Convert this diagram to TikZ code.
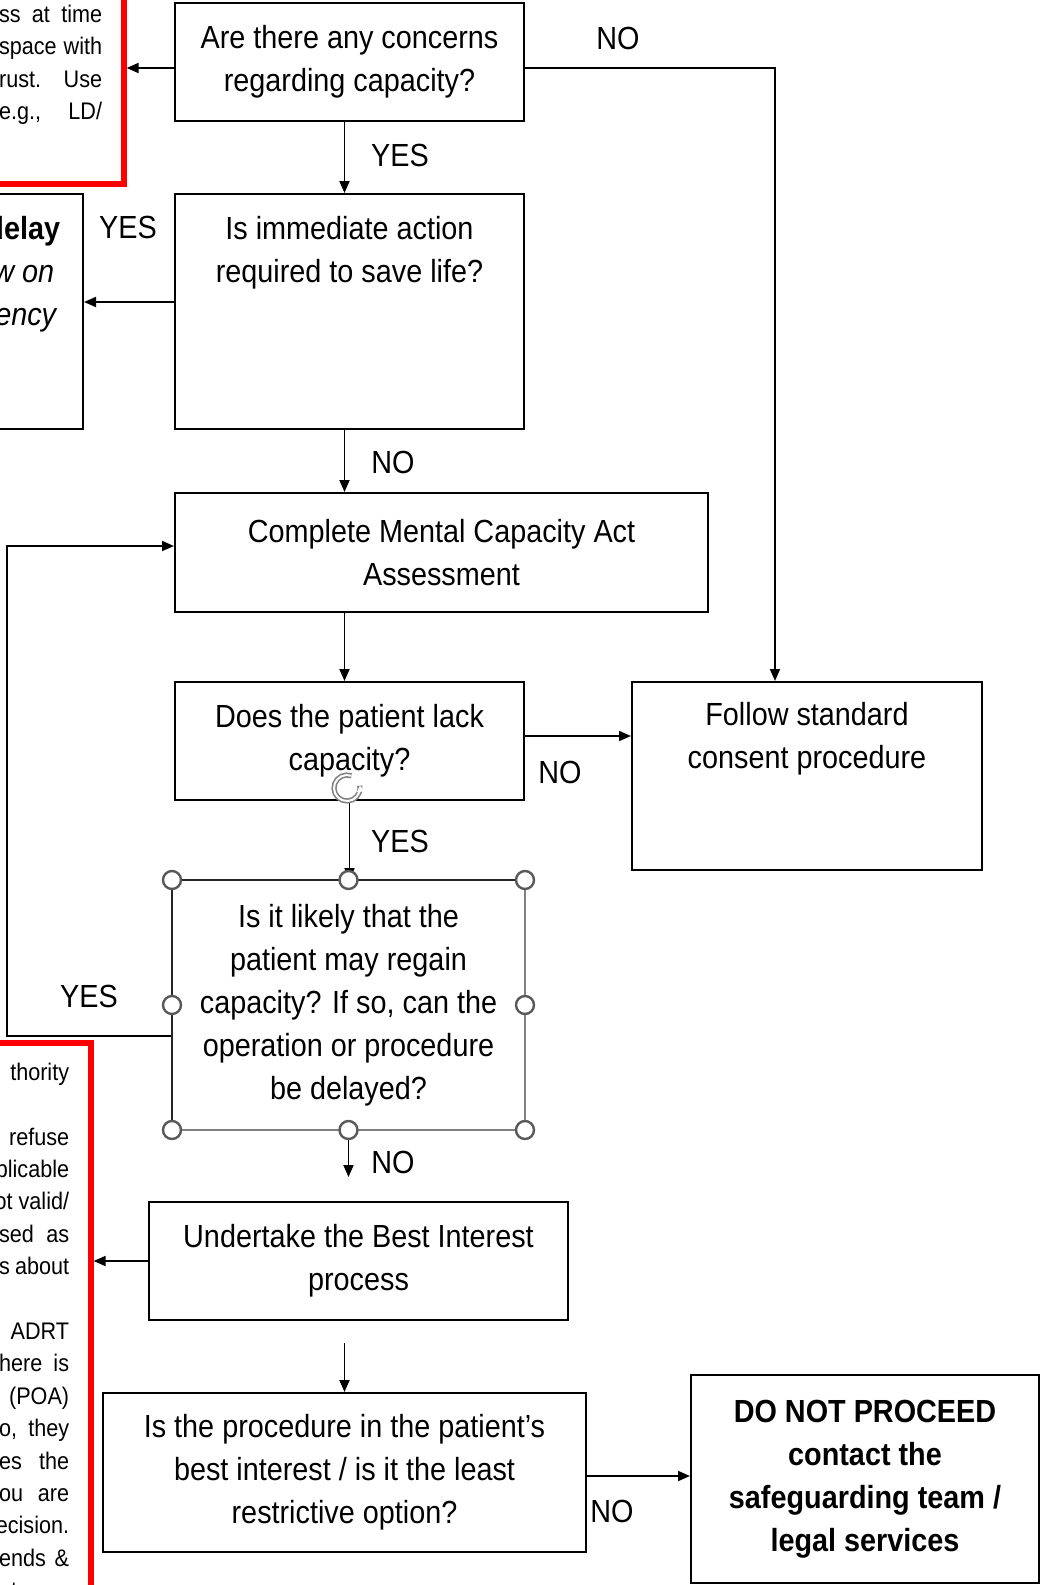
\documentclass[tikz,border=0pt]{standalone}
\usepackage{fontspec}
\setmainfont[FakeStretch=0.9]{Liberation Sans}
\usetikzlibrary{arrows.meta}

\newlength{\fragwidth}
\newcommand{\fragline}[1]{\makebox[\fragwidth][s]{#1}}

\begin{document}
\begin{tikzpicture}[x=0.5pt,y=-0.5pt,line width=0.9pt,
  >={Triangle[length=6pt,width=5pt]},
  every node/.style={font=\fontsize{16}{21.5}\selectfont, inner sep=0pt},
  box/.style={draw, rectangle, line width=1pt, align=center},
  redbox/.style={draw=red, rectangle, line width=2.6pt},
  note/.style={font=\fontsize{12}{16.2}\selectfont, align=right, anchor=north east},
  handle/.style={draw=gray!70!black, fill=white, line width=1.2pt}]
\useasboundingbox (0,0) rectangle (1040,1585);
\clip (0,0) rectangle (1040,1585);
\fill[white] (0,0) rectangle (1040,1585);

% cut-off boxes on the left
\node[redbox, minimum width=72pt, minimum height=102pt] (notes1) at (52,82) {};
\setlength{\fragwidth}{51.5pt}
\node[note] (notes1txt) at (103,4) {\fragline{ss at time}\\\fragline{space with}\\\fragline{rust. Use}\\\fragline{e.g., LD/}};

\node[draw, rectangle, line width=1pt, minimum width=51.5pt, minimum height=117.5pt] (urgentleft) at (31.5,311.5) {};
\node[align=right, anchor=north east] (urgentlefttxt) at (61,215) {{\bfseries delay}\\{\itshape w on}\kern3pt\\{\itshape ency}\kern2pt};

\node[redbox, minimum width=55.5pt, minimum height=298.5pt] (notes3) at (35.5,1341.5) {};
\setlength{\fragwidth}{35pt}
\node[note] (notes3txt) at (70,1062) {thority\\\mbox{}\\refuse\\plicable\\ot valid/\\\fragline{sed as}\\\fragline{s about}\\\mbox{}\\ADRT\\\fragline{here is}\\(POA)\\\fragline{o, they}\\\fragline{es the}\\\fragline{ou are}\\ecision.\\\fragline{ends \&}\\\fragline{nt an}};

% main flow
\node[box, minimum width=174.5pt, minimum height=59pt] (concern) at (349.5,62) {Are there any concerns\\regarding capacity?};
\node[box, minimum width=174.5pt, minimum height=117.5pt] (urgent) at (349.5,311.5) {};
\node[anchor=north, align=center] (urgenttxt) at (349.5,215) {Is immediate action\\required to save life?};
\node[box, minimum width=266.5pt, minimum height=59.5pt] (mca) at (441.5,552.5) {Complete Mental Capacity Act\\Assessment};
\node[box, minimum width=174.5pt, minimum height=59pt] (lack) at (349.5,741) {Does the patient lack\\capacity?};
\node[box, minimum width=175pt, minimum height=94pt] (standard) at (807,776) {};
\node[anchor=north, align=center] (standardtxt) at (807,701) {Follow standard\\consent procedure};
\node[box, draw=none, minimum width=175.5pt, minimum height=124pt] (regain) at (348.5,1005) {Is it likely that the\\patient may regain\\capacity? If so, can the\\operation or procedure\\be delayed?};
\node[box, minimum width=209.5pt, minimum height=59pt] (best) at (358.5,1261) {Undertake the Best Interest\\process};
\node[box, minimum width=241.5pt, minimum height=79.5pt] (restrict) at (344.5,1472.5) {Is the procedure in the patient’s\\best interest / is it the least\\restrictive option?};
\node[box, minimum width=174pt, minimum height=104pt, font=\fontsize{16}{21.5}\selectfont\bfseries] (stop) at (865,1479) {DO NOT PROCEED\\contact the\\safeguarding team /\\legal services};

% answers
\node (yes1) at (400,155) {YES};
\node (no1) at (618,38) {NO};
\node (yes2) at (128,227) {YES};
\node (no2) at (393,462) {NO};
\node (yes3) at (89,996) {YES};
\node (no3) at (560,772) {NO};
\node (yes4) at (400,841) {YES};
\node (no4) at (393,1162) {NO};
\node (no5) at (612,1511) {NO};

\draw[->] ([yshift=-3pt]concern.west) -- ([yshift=-3pt]concern.west -| notes1.east);
\draw[->] ([xshift=-2.5pt]concern.south) -- ([xshift=-2.5pt]urgent.north);
\draw[->] ([yshift=-3pt]concern.east) -| ([xshift=-16pt]standard.north);
\draw[->] ([yshift=4.75pt]urgent.west) -- ([yshift=4.75pt]urgent.west -| urgentleft.east);
\draw[->] ([xshift=-2.5pt]urgent.south) -- ([xshift=-2.5pt]urgent.south |- mca.north);
\draw[->] ([xshift=-2.5pt]lack.north |- mca.south) -- ([xshift=-2.5pt]lack.north);
\draw[->] ([yshift=2.5pt]lack.east) -- ([yshift=2.5pt]lack.east -| standard.west);
\draw[->] (lack.south) -- (lack.south |- regain.north);
\draw[->] ([yshift=-15.5pt]regain.west) -- ++(-165,0) |- ([yshift=3.25pt]mca.west);
\draw[->] (regain.south) -- ([yshift=12pt]best.north -| regain.south);
\draw[->] (best.west) -- (best.west -| notes3.east);
\draw[->] ([yshift=-11pt]best.south -| restrict.north) -- (restrict.north);
\draw[->] ([yshift=-1.75pt]restrict.east) -- ([yshift=-1.75pt]restrict.east -| stop.west);

% selected box with its handles
\draw[line width=1.4pt, black!85] (regain.south west) -- (regain.north west) -- (regain.north east);
\draw[line width=0.9pt, gray] (regain.north east) -- (regain.south east) -- (regain.south west);
\foreach \a in {north west,north,north east,west,east,south west,south,south east}
  \draw[handle] (regain.\a) circle[radius=4.5pt];
\draw[gray, line width=2.6pt] (347,788) ++(70:6.5pt) arc[start angle=70, end angle=370, radius=6.5pt];
\draw[white, line width=1pt, -{Triangle[length=3pt,width=4pt]}] (347,788) ++(70:6.5pt) arc[start angle=70, end angle=370, radius=6.5pt];
\end{tikzpicture}
\end{document}
